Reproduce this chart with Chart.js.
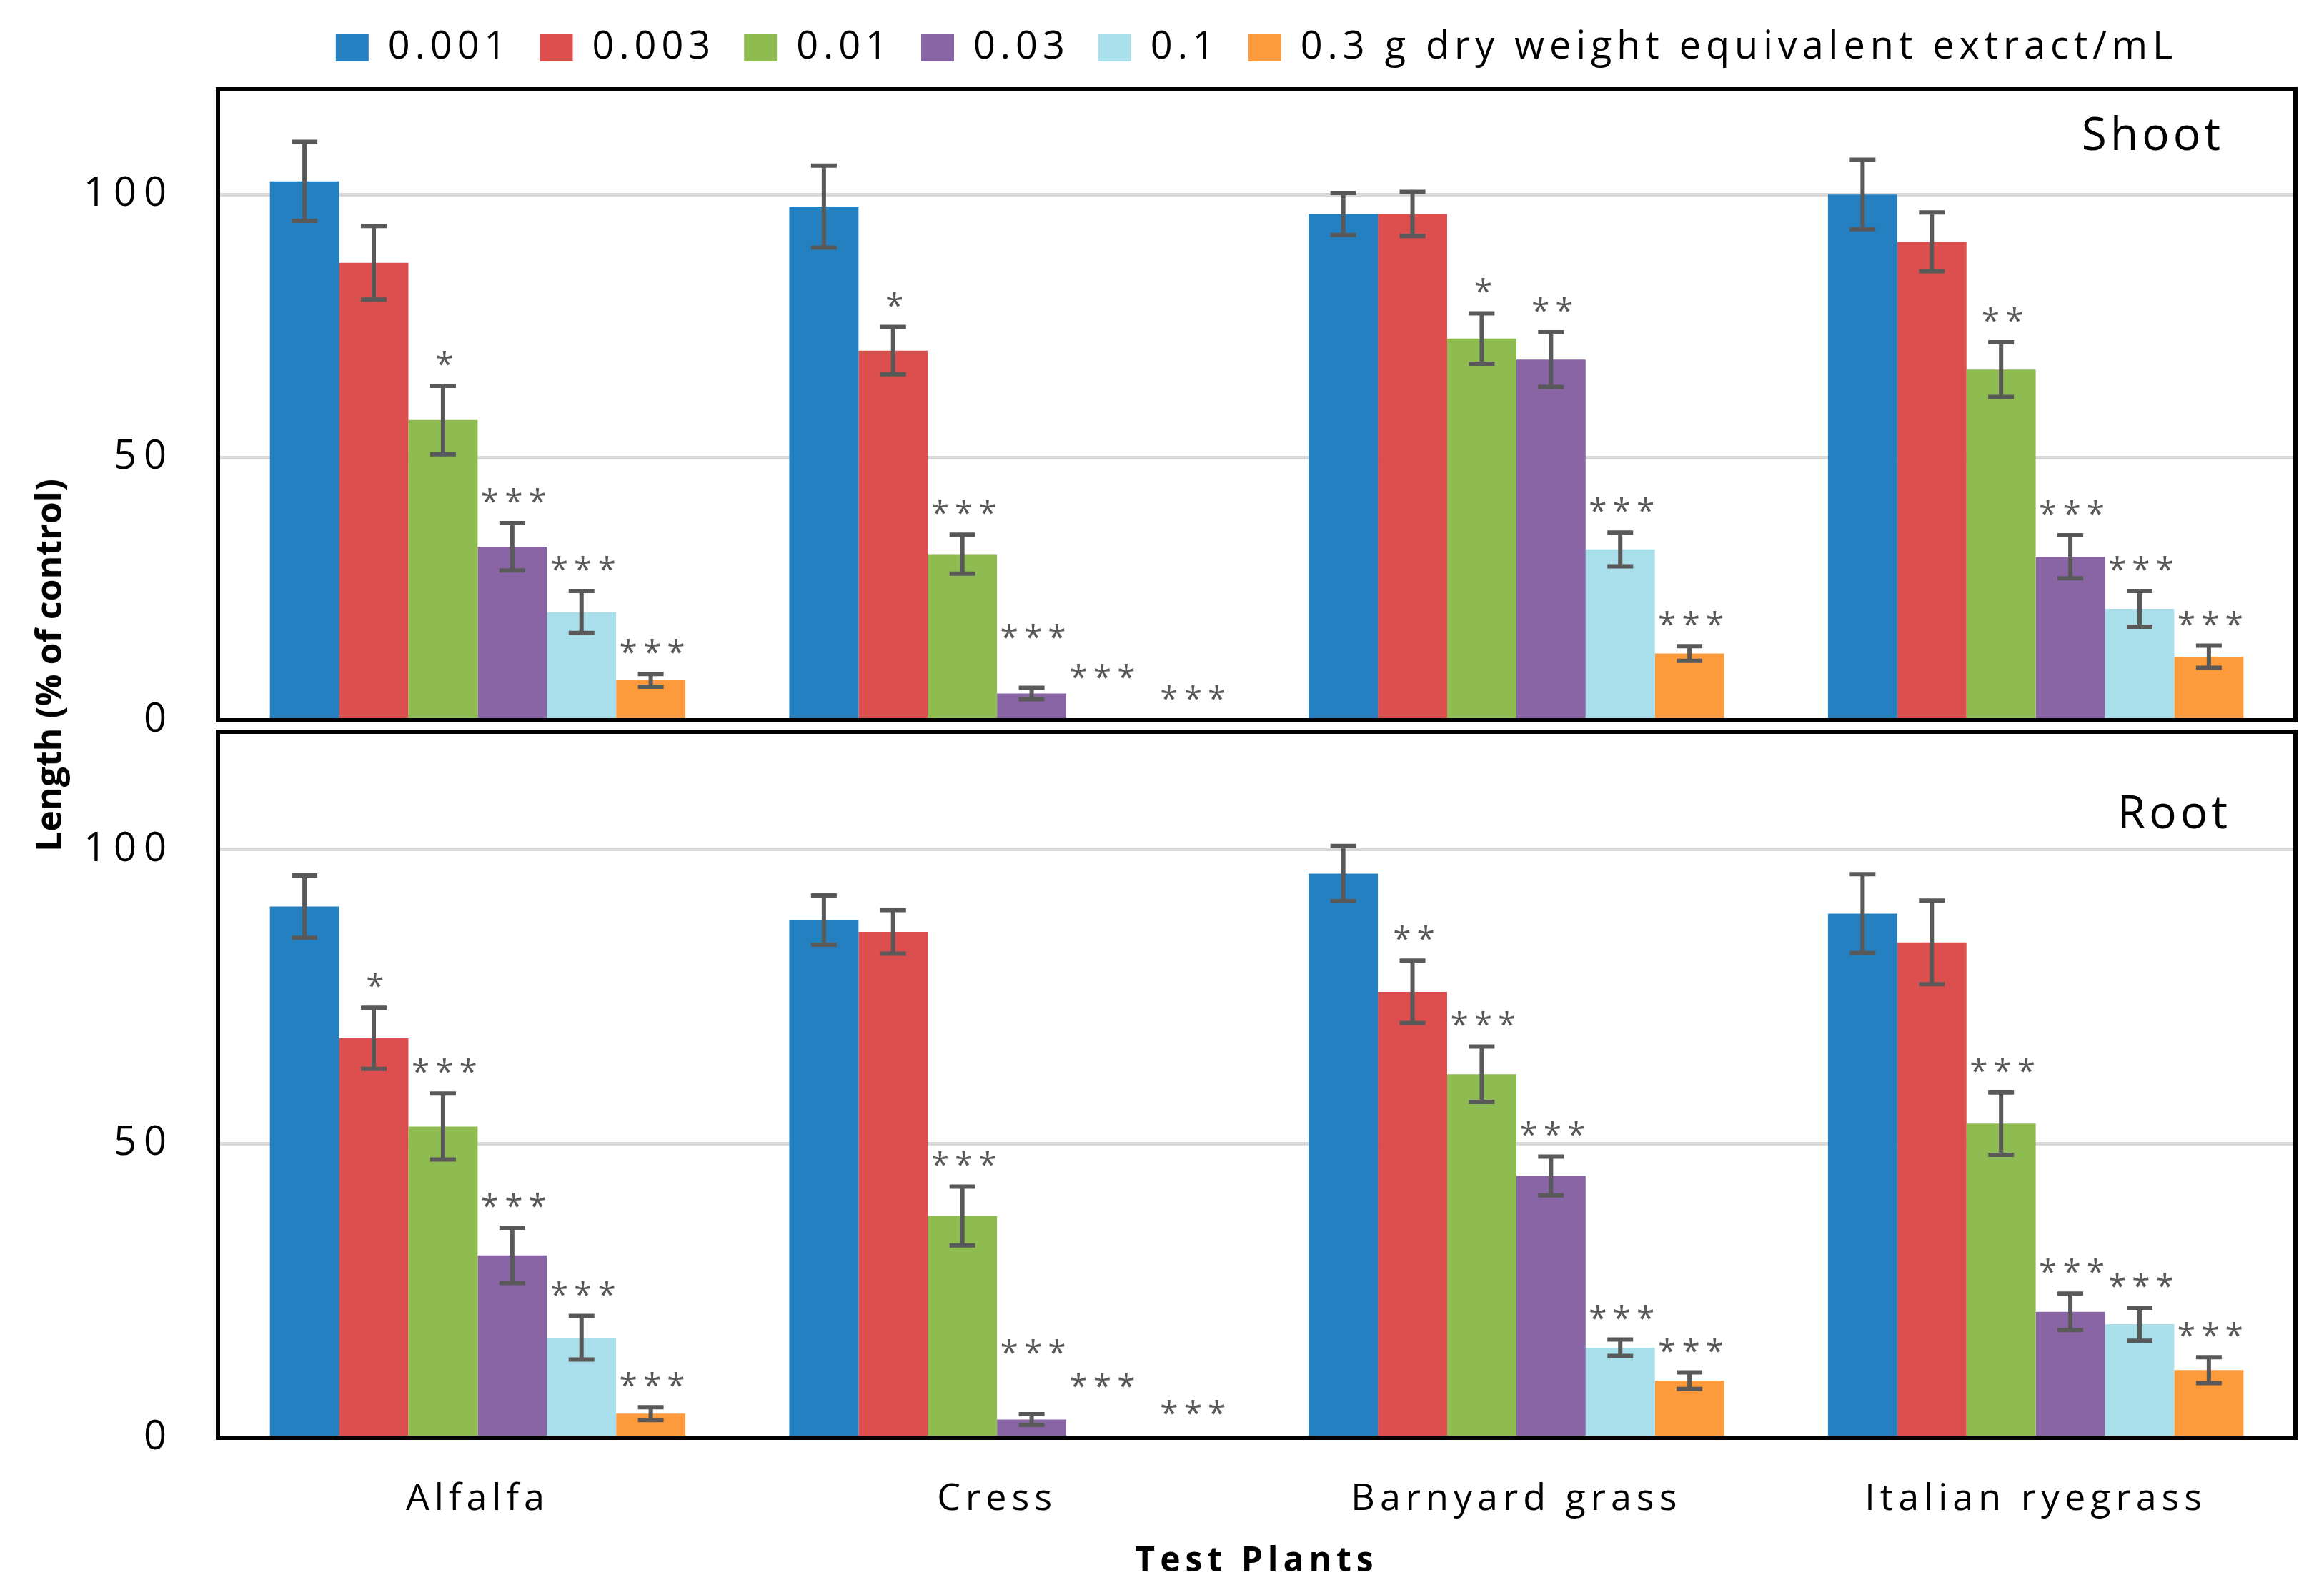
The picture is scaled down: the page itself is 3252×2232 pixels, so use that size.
<!DOCTYPE html>
<html>
<head>
<meta charset="utf-8">
<title>Shoot and root length of test plants</title>
<script src="https://cdn.jsdelivr.net/npm/chart.js@4.4.1/dist/chart.umd.min.js"></script>
<style>
  html, body { margin: 0; padding: 0; background: #fff; }
  body { width: 3252px; height: 2232px; position: relative; overflow: hidden; }
  .panel { position: absolute; left: 0; width: 3252px; }
  #shootBox { top: 0; height: 1118px; }
  #rootBox { top: 914px; height: 1318px; }
  #yTitle {
    position: absolute; left: 67px; top: 931px;
    transform: translate(-50%, -50%) rotate(-90deg);
    font: bold 50px "Open Sans", sans-serif;
    white-space: nowrap; color: #000;
  }
</style>
</head>
<body>
<div class="panel" id="shootBox"><canvas id="shootChart"></canvas></div>
<div class="panel" id="rootBox"><canvas id="rootChart"></canvas></div>
<div id="yTitle">Length (% of control)</div>

<script>
// categories and series
const plants = ["Alfalfa", "Cress", "Barnyard grass", "Italian ryegrass"];
const concLabels = ["0.001", "0.003", "0.01", "0.03", "0.1", "0.3 g dry weight equivalent extract/mL"];
const barColors = ["#2580c1", "#dd4f4e", "#8fbc50", "#8a65a6", "#a8dfea", "#fd9a3c"];
const yTicks = [0, 50, 100];

// shoot length (% of control), one row per concentration
const shootMeans = [
  [102.5, 97.7, 96.3, 100.0],
  [87.0, 70.3, 96.3, 91.0],
  [57.1, 31.6, 72.6, 66.7],
  [33.0, 5.1, 68.6, 31.1],
  [20.6, 0, 32.5, 21.2],
  [7.6, 0, 12.7, 12.1]
];
const shootErrors = [
  [7.5, 7.8, 4.0, 6.6],
  [7.0, 4.5, 4.2, 5.6],
  [6.5, 3.7, 4.8, 5.2],
  [4.5, 1.1, 5.2, 4.1],
  [4.0, 0, 3.2, 3.4],
  [1.2, 0, 1.4, 2.1]
];
const shootStars = [
  ["", "", "", ""],
  ["", "*", "", ""],
  ["*", "***", "*", "**"],
  ["***", "***", "**", "***"],
  ["***", "***", "***", "***"],
  ["***", "***", "***", "***"]
];

// root length (% of control)
const rootMeans = [
  [90.3, 88.0, 95.9, 89.1],
  [67.9, 86.0, 75.8, 84.2],
  [52.9, 37.7, 61.8, 53.4],
  [31.0, 3.1, 44.5, 21.4],
  [17.0, 0, 15.3, 19.3],
  [4.1, 0, 9.7, 11.5]
];
const rootErrors = [
  [5.3, 4.2, 4.7, 6.7],
  [5.2, 3.7, 5.3, 7.1],
  [5.6, 5.0, 4.7, 5.3],
  [4.7, 0.9, 3.3, 3.1],
  [3.7, 0, 1.4, 2.8],
  [1.1, 0, 1.4, 2.2]
];
const rootStars = [
  ["", "", "", ""],
  ["*", "", "**", ""],
  ["***", "***", "***", "***"],
  ["***", "***", "***", "***"],
  ["***", "***", "***", "***"],
  ["***", "***", "***", "***"]
];

Chart.defaults.font.family = '"Open Sans", sans-serif';
Chart.defaults.color = "#000";

// text in the figure is spaced out
const spacing = {
  id: "spacing",
  beforeLayout(chart) { chart.ctx.letterSpacing = "7px"; },
  beforeDraw(chart) { chart.ctx.letterSpacing = "7px"; }
};

// error bars + significance stars
const errorBars = {
  id: "errorBars",
  afterDatasetsDraw(chart, args, opts) {
    const ctx = chart.ctx;
    const y = chart.scales.y;
    const nudge = opts.nudge || {};
    ctx.save();
    chart.data.datasets.forEach((ds, i) => {
      const meta = chart.getDatasetMeta(i);
      meta.data.forEach((bar, j) => {
        const v = ds.data[j];
        const e = ds.errors[j];
        const top = y.getPixelForValue(v + e);
        if (e > 0) {
          const bot = y.getPixelForValue(v - e);
          ctx.strokeStyle = "#595959";
          ctx.lineWidth = 6;
          ctx.beginPath();
          ctx.moveTo(bar.x, top); ctx.lineTo(bar.x, bot);
          ctx.moveTo(bar.x - 18, top); ctx.lineTo(bar.x + 18, top);
          ctx.moveTo(bar.x - 18, bot); ctx.lineTo(bar.x + 18, bot);
          ctx.stroke();
        }
        if (ds.stars[j]) {
          const n = nudge[i + "," + j] || [0, 0];
          ctx.fillStyle = "#595959";
          ctx.font = '46px "Open Sans", sans-serif';
          ctx.letterSpacing = "8px";
          ctx.textAlign = "center";
          ctx.textBaseline = "alphabetic";
          ctx.fillText(ds.stars[j], bar.x + 6 + n[0], top - 14 + n[1]);
        }
      });
    });
    ctx.restore();
  }
};

// black frame round the plot + panel name
const panelBox = {
  id: "panelBox",
  afterDraw(chart, args, opts) {
    const ctx = chart.ctx;
    const a = chart.chartArea;
    ctx.save();
    ctx.lineWidth = 6;
    ctx.strokeStyle = "#000";
    ctx.strokeRect(a.left, a.top, a.right - a.left, a.bottom - a.top);
    ctx.fillStyle = "#000";
    ctx.font = '64px "Open Sans", sans-serif';
    ctx.letterSpacing = "5px";
    ctx.textAlign = "right";
    ctx.textBaseline = "middle";
    ctx.fillText(opts.text, a.right - opts.dx, a.top + opts.dy);
    ctx.restore();
  }
};

function makeDatasets(means, errors, stars) {
  return concLabels.map((label, i) => ({
    label: label,
    data: means[i],
    errors: errors[i],
    stars: stars[i],
    backgroundColor: barColors[i],
    borderWidth: 0,
    categoryPercentage: 0.8,
    barPercentage: 1.0
  }));
}

function yAxis() {
  return {
    min: 0,
    max: 120,
    ticks: { stepSize: 50, padding: 62, color: "#000", font: { size: 56 } },
    grid: { color: "#d9d9d9", lineWidth: 5, drawTicks: false },
    border: { display: false },
    afterBuildTicks: (s) => { s.ticks = yTicks.map((v) => ({ value: v })); },
    afterFit: (s) => {
      s.width = 305;
      // the y numbers are more widely spaced than the rest
      if (!s._wideLabels) {
        const base = Object.getPrototypeOf(s).drawLabels;
        s.drawLabels = function (area) {
          this.ctx.save();
          this.ctx.letterSpacing = "10px";
          base.call(this, area);
          this.ctx.restore();
        };
        s._wideLabels = true;
      }
    }
  };
}

const shootChart = new Chart(document.getElementById("shootChart"), {
  type: "bar",
  data: { labels: plants, datasets: makeDatasets(shootMeans, shootErrors, shootStars) },
  options: {
    responsive: true,
    maintainAspectRatio: false,
    devicePixelRatio: 1,
    animation: false,
    layout: { padding: { left: 0, right: 40, top: 0, bottom: 110 } },
    scales: {
      x: { display: false },
      y: yAxis()
    },
    plugins: {
      legend: {
        position: "top",
        fullSize: false,
        labels: {
          boxWidth: 46,
          boxHeight: 38,
          padding: 40,
          color: "#000",
          font: { size: 54 }
        }
      },
      // empty spacer between legend and plot
      subtitle: { display: true, text: "", weight: 500, font: { size: 10 }, padding: { top: 9, bottom: 0 } },
      tooltip: { enabled: false },
      errorBars: { nudge: { "3,1": [0, -40], "4,1": [0, -30], "5,1": [30, 0] } },
      panelBox: { text: "Shoot", dx: 100, dy: 67 }
    }
  },
  plugins: [spacing, errorBars, panelBox]
});

const rootChart = new Chart(document.getElementById("rootChart"), {
  type: "bar",
  data: { labels: plants, datasets: makeDatasets(rootMeans, rootErrors, rootStars) },
  options: {
    responsive: true,
    maintainAspectRatio: false,
    devicePixelRatio: 1,
    animation: false,
    layout: { padding: { left: 0, right: 40, top: 110, bottom: 0 } },
    scales: {
      x: {
        grid: { display: false },
        border: { display: false },
        ticks: { padding: 47, color: "#000", font: { size: 52 } },
        title: {
          display: true,
          text: "Test Plants",
          color: "#000",
          font: { size: 48, weight: "bold" },
          padding: { top: 0, bottom: 18 }
        },
        afterFit: (s) => { s.height = 220; }
      },
      y: yAxis()
    },
    plugins: {
      legend: { display: false },
      tooltip: { enabled: false },
      errorBars: { nudge: { "3,1": [0, -56], "4,1": [0, -42], "5,1": [30, -4] } },
      panelBox: { text: "Root", dx: 90, dy: 117 }
    }
  },
  plugins: [spacing, errorBars, panelBox]
});
</script>
</body>
</html>
